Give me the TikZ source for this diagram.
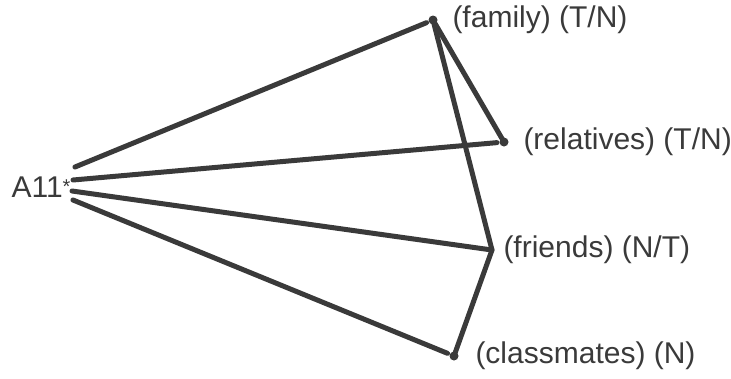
\documentclass[tikz,border=0pt]{standalone}
\usepackage{fontspec}
\setmainfont{Liberation Sans}
\usetikzlibrary{positioning}
\definecolor{ink}{HTML}{3A3A3A}
\begin{document}
\begin{tikzpicture}[x=1pt, y=-1pt, line join=round, line cap=round, line width=5pt, color=ink,
	dot/.style={circle, fill=ink, inner sep=0pt, minimum size=9pt},
	lbl/.style={inner sep=0pt, font=\fontsize{30}{36}\selectfont}]
	\useasboundingbox (0,0) rectangle (731,378);
	\node[lbl, anchor=base east] (a11) at (73,197) {A11\raisebox{4pt}{\fontsize{20}{20}\selectfont*}};
	\node[dot] (family) at (433,20) {};
	\node[dot] (relatives) at (504,142) {};
	\coordinate (friends) at (492,250);
	\node[dot] (classmates) at (454,356) {};
	\node[lbl, right=10pt of family] (familylbl) {(family) (T/N)};
	\node[lbl, right=10pt of relatives] (relativeslbl) {(relatives) (T/N)};
	\node[lbl, right=9pt of friends] (friendslbl) {(friends) (N/T)};
	\node[lbl, right=12pt of classmates] (classmateslbl) {(classmates) (N)};
	\draw ([shift={(2,-30)}]a11.base east) -- (family);
	\draw ([shift={(0,-17)}]a11.base east) -- (relatives);
	\draw ([shift={(-1,-6)}]a11.base east) -- (friends);
	\draw ([shift={(0,3)}]a11.base east) -- (classmates);
	\draw (family.center) -- (relatives.center);
	\draw (family.center) -- (friends) -- (classmates.center);
\end{tikzpicture}
\end{document}
